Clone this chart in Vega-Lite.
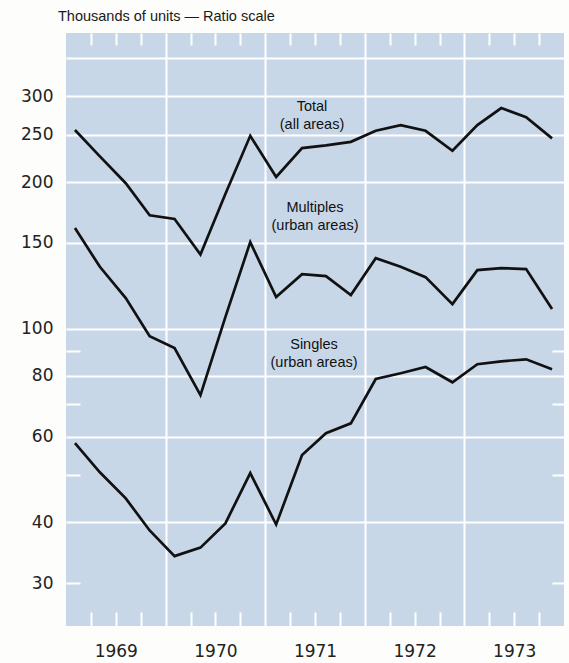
{
  "$schema": "https://vega.github.io/schema/vega-lite/v6.json",
  "autosize": "none",
  "width": 498,
  "height": 593,
  "padding": {"left": 66, "top": 33, "right": 5, "bottom": 37},
  "background": "#fdfdfb",
  "title": {
    "text": "Thousands of units — Ratio scale",
    "anchor": "start",
    "frame": "group",
    "dx": -8,
    "offset": -3,
    "baseline": "alphabetic",
    "font": "Liberation Sans",
    "fontSize": 14.5,
    "fontWeight": "normal",
    "color": "#1a1a1a"
  },
  "config": {
    "view": {"fill": "#c8d7e8", "stroke": null},
    "axis": {"domain": false, "labelOverlap": false, "labelFlush": false}
  },
  "resolve": {"axis": {"x": "independent", "y": "independent"}},
  "layer": [
    {
      "data": {
        "values": [
          {"series": "Total", "t": 1969.09, "v": 256},
          {"series": "Total", "t": 1969.34, "v": 226},
          {"series": "Total", "t": 1969.60, "v": 199},
          {"series": "Total", "t": 1969.84, "v": 171},
          {"series": "Total", "t": 1970.09, "v": 168},
          {"series": "Total", "t": 1970.35, "v": 142},
          {"series": "Total", "t": 1970.60, "v": 189},
          {"series": "Total", "t": 1970.85, "v": 249},
          {"series": "Total", "t": 1971.11, "v": 205},
          {"series": "Total", "t": 1971.37, "v": 235},
          {"series": "Total", "t": 1971.61, "v": 238},
          {"series": "Total", "t": 1971.86, "v": 242},
          {"series": "Total", "t": 1972.11, "v": 255},
          {"series": "Total", "t": 1972.36, "v": 262},
          {"series": "Total", "t": 1972.61, "v": 255},
          {"series": "Total", "t": 1972.88, "v": 232},
          {"series": "Total", "t": 1973.13, "v": 262},
          {"series": "Total", "t": 1973.37, "v": 284},
          {"series": "Total", "t": 1973.62, "v": 272},
          {"series": "Total", "t": 1973.88, "v": 246},
          {"series": "Multiples", "t": 1969.09, "v": 161},
          {"series": "Multiples", "t": 1969.34, "v": 134},
          {"series": "Multiples", "t": 1969.60, "v": 115.6},
          {"series": "Multiples", "t": 1969.84, "v": 96.5},
          {"series": "Multiples", "t": 1970.09, "v": 91.2},
          {"series": "Multiples", "t": 1970.35, "v": 73},
          {"series": "Multiples", "t": 1970.60, "v": 105.6},
          {"series": "Multiples", "t": 1970.85, "v": 150.6},
          {"series": "Multiples", "t": 1971.11, "v": 116.1},
          {"series": "Multiples", "t": 1971.37, "v": 129.4},
          {"series": "Multiples", "t": 1971.61, "v": 128.2},
          {"series": "Multiples", "t": 1971.86, "v": 117.2},
          {"series": "Multiples", "t": 1972.11, "v": 139.6},
          {"series": "Multiples", "t": 1972.36, "v": 134},
          {"series": "Multiples", "t": 1972.61, "v": 127.6},
          {"series": "Multiples", "t": 1972.88, "v": 112.3},
          {"series": "Multiples", "t": 1973.13, "v": 131.9},
          {"series": "Multiples", "t": 1973.37, "v": 133.2},
          {"series": "Multiples", "t": 1973.62, "v": 132.6},
          {"series": "Multiples", "t": 1973.88, "v": 109.7},
          {"series": "Singles", "t": 1969.09, "v": 58.2},
          {"series": "Singles", "t": 1969.34, "v": 50.7},
          {"series": "Singles", "t": 1969.60, "v": 44.8},
          {"series": "Singles", "t": 1969.84, "v": 38.5},
          {"series": "Singles", "t": 1970.09, "v": 34.1},
          {"series": "Singles", "t": 1970.35, "v": 35.5},
          {"series": "Singles", "t": 1970.60, "v": 39.8},
          {"series": "Singles", "t": 1970.85, "v": 50.5},
          {"series": "Singles", "t": 1971.11, "v": 39.6},
          {"series": "Singles", "t": 1971.37, "v": 55},
          {"series": "Singles", "t": 1971.61, "v": 61},
          {"series": "Singles", "t": 1971.86, "v": 63.9},
          {"series": "Singles", "t": 1972.11, "v": 78.8},
          {"series": "Singles", "t": 1972.36, "v": 81},
          {"series": "Singles", "t": 1972.61, "v": 83.4},
          {"series": "Singles", "t": 1972.88, "v": 77.6},
          {"series": "Singles", "t": 1973.13, "v": 84.5},
          {"series": "Singles", "t": 1973.37, "v": 85.7},
          {"series": "Singles", "t": 1973.62, "v": 86.5},
          {"series": "Singles", "t": 1973.88, "v": 82.5}
        ]
      },
      "mark": {"type": "line", "color": "#111111", "strokeWidth": 2.7, "strokeJoin": "miter"},
      "encoding": {
        "detail": {"field": "series", "type": "nominal"},
        "x": {
          "field": "t",
          "type": "quantitative",
          "scale": {"domain": [1969, 1974], "nice": false, "zero": false},
          "axis": {
            "orient": "bottom",
            "title": null,
            "grid": false,
            "values": [1969.25, 1969.5, 1969.75, 1970.25, 1970.5, 1970.75, 1971.25, 1971.5, 1971.75, 1972.25, 1972.5, 1972.75, 1973.25, 1973.5, 1973.75],
            "tickSize": -14,
            "tickWidth": 2,
            "tickColor": "#ffffff",
            "labelExpr": "datum.value % 1 === 0.5 ? '' + floor(datum.value) : ''",
            "labelFont": "DejaVu Sans",
            "labelFontSize": 17,
            "labelColor": "#222222",
            "labelBaseline": "top",
            "labelPadding": 31
          }
        },
        "y": {
          "field": "v",
          "type": "quantitative",
          "scale": {"type": "log", "domain": [24.5, 405], "nice": false, "zero": false},
          "axis": {
            "orient": "left",
            "title": null,
            "values": [30, 40, 50, 60, 70, 80, 90, 100, 150, 200, 250, 300, 360],
            "format": "d",
            "grid": true,
            "gridColor": "#ffffff",
            "gridWidth": 2,
            "gridOpacity": {"condition": {"test": "datum.value === 30 || datum.value === 50 || datum.value === 70 || datum.value === 90", "value": 0}, "value": 1},
            "tickSize": -14,
            "tickWidth": 2,
            "tickColor": "#ffffff",
            "tickOpacity": {"condition": {"test": "datum.value === 30 || datum.value === 50 || datum.value === 70 || datum.value === 90", "value": 1}, "value": 0},
            "labelExpr": "datum.value === 50 || datum.value === 70 || datum.value === 90 || datum.value === 360 ? '' : datum.label",
            "labelFont": "DejaVu Sans",
            "labelFontSize": 17,
            "labelColor": "#222222",
            "labelPadding": 27
          }
        }
      }
    },
    {
      "data": {
        "values": [
          {"label": "Total\n(all areas)", "t": 1971.47, "v": 285.4},
          {"label": "Multiples\n(urban areas)", "t": 1971.5, "v": 176.9},
          {"label": "Singles\n(urban areas)", "t": 1971.49, "v": 92.5}
        ]
      },
      "mark": {"type": "text", "font": "Liberation Sans", "fontSize": 14.5, "color": "#111111", "align": "center", "baseline": "middle", "lineBreak": "\n", "lineHeight": 18},
      "encoding": {
        "text": {"field": "label", "type": "nominal"},
        "x": {
          "field": "t",
          "type": "quantitative",
          "axis": {
            "orient": "top",
            "title": null,
            "labels": false,
            "values": [1969.25, 1969.5, 1969.75, 1970, 1970.25, 1970.5, 1970.75, 1971, 1971.25, 1971.5, 1971.75, 1972, 1972.25, 1972.5, 1972.75, 1973, 1973.25, 1973.5, 1973.75],
            "grid": true,
            "gridColor": "#ffffff",
            "gridWidth": 2,
            "gridOpacity": {"condition": {"test": "datum.value % 1 === 0", "value": 1}, "value": 0},
            "tickSize": -12,
            "tickWidth": 2,
            "tickColor": "#ffffff",
            "tickOpacity": {"condition": {"test": "datum.value % 1 === 0", "value": 0}, "value": 1}
          }
        },
        "y": {
          "field": "v",
          "type": "quantitative",
          "axis": {
            "orient": "right",
            "title": null,
            "labels": false,
            "grid": false,
            "values": [30, 50, 70, 90],
            "tickSize": -12,
            "tickWidth": 2,
            "tickColor": "#ffffff"
          }
        }
      }
    }
  ]
}
